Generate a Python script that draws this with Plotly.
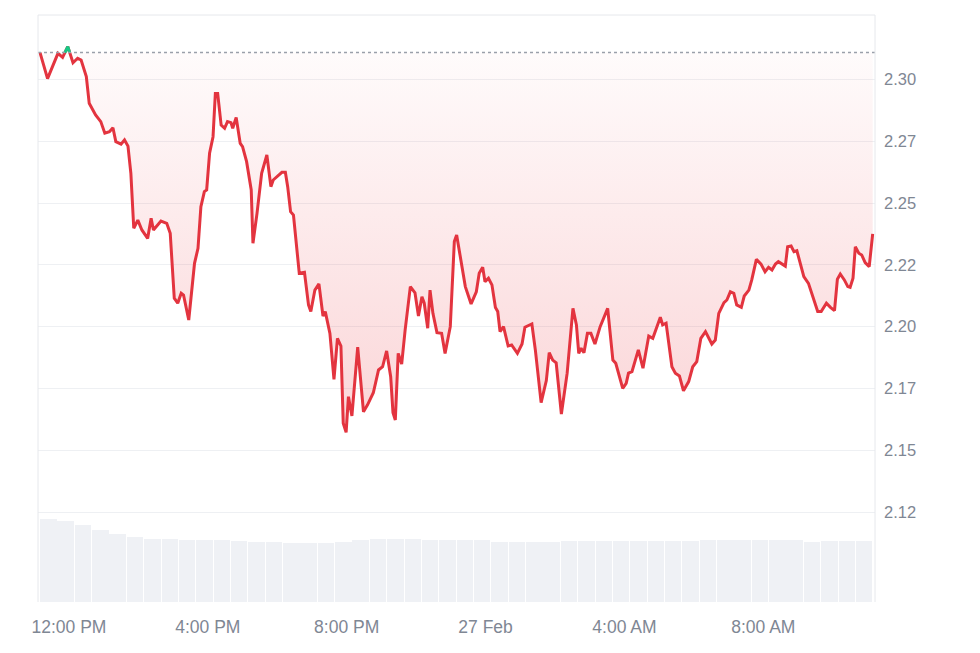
import pandas as pd
import plotly.graph_objects as go

# ---- data ----
start_time = "2025-02-26 11:10"
offset_min = [0, 13, 31, 39, 48, 57, 65, 71, 80, 85, 96, 105, 112, 120, 126, 131, 140, 146, 152, 157,
              162, 169, 176, 186, 192, 196, 209, 219, 225, 232, 238, 244, 248, 257, 267, 273, 278, 284, 288, 293,
              299, 303, 307, 313, 319, 324, 330, 333, 339, 346, 350, 357, 365, 368,
              375, 383, 392, 399, 403, 418, 424, 428, 433, 438, 448, 457, 464, 468, 475, 482,
              489, 493, 501, 508, 514, 520, 524, 529, 533, 539, 549, 559, 566, 576, 585, 592,
              599, 606, 610, 614, 619, 625, 631, 640, 648, 654, 660, 664, 670, 674, 679, 686,
              694, 700, 709, 716, 720, 727,
              735, 745, 754, 759, 765, 769, 775, 781, 787, 791, 795, 801, 809, 815, 825, 833,
              838, 850, 856, 866, 875, 880, 886, 892, 901, 911, 921, 927, 931, 935, 940, 946,
              952, 959, 968, 981, 990, 995, 1007, 1013, 1017, 1023, 1034, 1042, 1052, 1059, 1072, 1076,
              1082, 1092,
              1098, 1105, 1112, 1121, 1128, 1135, 1142, 1150, 1161, 1167, 1173, 1182, 1187, 1193, 1199, 1204,
              1212, 1217, 1225, 1230, 1238, 1246, 1253, 1259, 1265, 1271, 1276, 1288, 1292, 1298, 1303, 1308,
              1314, 1320, 1328, 1337, 1344, 1350, 1359, 1366, 1373, 1378, 1383, 1390, 1396, 1400, 1405, 1409,
              1415, 1420, 1426, 1433, 1439]
price = [2.3108, 2.3003, 2.3105, 2.3089, 2.3132, 2.3067, 2.3085, 2.3078, 2.3011, 2.2903, 2.2856, 2.2829,
         2.2782, 2.2788, 2.2804, 2.2748, 2.2738, 2.2755, 2.2730, 2.2620,
         2.2398, 2.2431, 2.2391, 2.2357, 2.2438, 2.2391, 2.2427, 2.2418, 2.2378, 2.2115, 2.2095, 2.2135,
         2.2128, 2.2027, 2.2256, 2.2317, 2.2485, 2.2546, 2.2553, 2.2701,
         2.2768, 2.2943, 2.2943, 2.2815, 2.2802, 2.2829, 2.2825, 2.2802, 2.2846, 2.2741, 2.2728, 2.2667,
         2.2553, 2.2337,
         2.2458, 2.2620, 2.2694, 2.2566, 2.2593, 2.2624, 2.2624, 2.2566, 2.2465, 2.2451, 2.2216, 2.2220,
         2.2088, 2.2061, 2.2148, 2.2173,
         2.2043, 2.2061, 2.1973, 2.1787, 2.1953, 2.1922, 2.1610, 2.1573, 2.1717, 2.1639, 2.1917, 2.1656,
         2.1684, 2.1733, 2.1825, 2.1838,
         2.1902, 2.1798, 2.1652, 2.1623, 2.1892, 2.1849, 2.1987, 2.2162, 2.2137, 2.2043, 2.2121, 2.2095,
         2.1994, 2.2148, 2.2054, 2.1976,
         2.1973, 2.1892, 2.2000, 2.2344, 2.2371, 2.2270,
         2.2162, 2.2092, 2.2141, 2.2216, 2.2240, 2.2182, 2.2196, 2.2169, 2.2078, 2.2061, 2.1980, 2.2000,
         2.1922, 2.1926, 2.1892, 2.1930,
         2.1998, 2.2011, 2.1906, 2.1693, 2.1782, 2.1895, 2.1865, 2.1854, 2.1647, 2.1812, 2.2074, 2.2007,
         2.1892, 2.1913, 2.1895, 2.1973,
         2.1973, 2.1930, 2.2000, 2.2074, 2.1865, 2.1852, 2.1751, 2.1771, 2.1812, 2.1818, 2.1906, 2.1832,
         2.1962, 2.1953, 2.2038, 2.2007,
         2.2014, 2.1838,
         2.1812, 2.1801, 2.1741, 2.1778, 2.1838, 2.1859, 2.1953, 2.1980, 2.1930, 2.1946, 2.2054, 2.2097,
         2.2108, 2.2141, 2.2135, 2.2088,
         2.2078, 2.2124, 2.2148, 2.2189, 2.2272, 2.2253, 2.2222, 2.2240, 2.2229, 2.2253, 2.2263, 2.2245,
         2.2323, 2.2326, 2.2303, 2.2307,
         2.2249, 2.2202, 2.2175, 2.2115, 2.2061, 2.2061, 2.2095, 2.2078, 2.2065, 2.2192, 2.2213, 2.2189,
         2.2162, 2.2159, 2.2196, 2.2323,
         2.2297, 2.2290, 2.2259, 2.2243, 2.2375]

# 24h volume (billions), one bar per 30 minutes
volume_step_min = 30
volume = [6.00, 5.82, 5.60, 5.24, 4.95, 4.70, 4.55, 4.52, 4.50, 4.50, 4.48, 4.41,
          4.34, 4.32, 4.30, 4.30, 4.30, 4.32, 4.45, 4.52, 4.52, 4.52, 4.50, 4.48,
          4.48, 4.45, 4.37, 4.35, 4.34, 4.37, 4.41, 4.41, 4.41, 4.41, 4.41, 4.41,
          4.43, 4.43, 4.45, 4.45, 4.46, 4.47, 4.48, 4.48, 4.37, 4.39, 4.41, 4.41]

tick_times = ["2025-02-26 12:00", "2025-02-26 16:00", "2025-02-26 20:00",
              "2025-02-27 00:00", "2025-02-27 04:00", "2025-02-27 08:00"]
tick_labels = ["12:00 PM", "4:00 PM", "8:00 PM", "27 Feb", "4:00 AM", "8:00 AM"]
price_ticks = [2.125, 2.15, 2.175, 2.20, 2.225, 2.25, 2.275, 2.30]
price_tick_labels = ["2.12", "2.15", "2.17", "2.20", "2.22", "2.25", "2.27", "2.30"]

# ---- derived ----
t0 = pd.Timestamp(start_time)
times = [t0 + pd.Timedelta(minutes=m) for m in offset_min]
open_price = price[0]
vol_times = [t0 + pd.Timedelta(minutes=volume_step_min * i) for i in range(len(volume))]

# green segments (above the opening price), with crossing points
gx, gy = [], []
for i in range(len(price)):
    if price[i] > open_price:
        if i > 0 and price[i - 1] <= open_price:
            f = (open_price - price[i - 1]) / (price[i] - price[i - 1])
            gx.append(times[i - 1] + (times[i] - times[i - 1]) * f)
            gy.append(open_price)
        gx.append(times[i]); gy.append(price[i])
        if i + 1 < len(price) and price[i + 1] <= open_price:
            f = (price[i] - open_price) / (price[i] - price[i + 1])
            gx.append(times[i] + (times[i + 1] - times[i]) * f)
            gy.append(open_price)
            gx.append(None); gy.append(None)

RED = "#e3343f"
GREEN = "#16c784"
GRAY = "#7f8794"

fig = go.Figure()
fig.add_trace(go.Bar(x=vol_times, y=volume, yaxis="y2", marker=dict(color="#eff1f5", line=dict(width=0)),
                     width=volume_step_min * 60 * 1000 * 0.95, offset=0, hoverinfo="skip"))
fig.add_trace(go.Scatter(x=[times[0], times[-1]], y=[open_price, open_price], mode="lines",
                         line=dict(width=0, color="rgba(0,0,0,0)"), hoverinfo="skip"))
fig.add_trace(go.Scatter(x=times, y=price, mode="lines", fill="tonexty",
                         fillgradient=dict(type="vertical",
                                           colorscale=[[0, "rgba(234,57,67,0.21)"], [1, "rgba(234,57,67,0.02)"]],
                                           start=min(price), stop=open_price),
                         line=dict(color=RED, width=3, shape="linear")))
fig.add_trace(go.Scatter(x=gx, y=gy, mode="lines", line=dict(color=GREEN, width=3), connectgaps=False))

x_lo = t0 - pd.Timedelta(minutes=3.5)
x_hi = t0 + pd.Timedelta(minutes=1443)

# the page body adds an 8px offset, so the figure is sized to the visible area
fig.update_layout(
    width=964, height=637,
    margin=dict(l=30, r=97, t=7, b=43),
    paper_bgcolor="white", plot_bgcolor="white",
    showlegend=False,
    font=dict(family="Liberation Sans, Arial, sans-serif", color=GRAY),
    xaxis=dict(type="date", range=[x_lo, x_hi], tickvals=tick_times, ticktext=tick_labels,
               showgrid=False, zeroline=False, showline=False, ticks="",
               tickfont=dict(size=17.5, color=GRAY), ticklabelstandoff=12),
    yaxis=dict(side="right", range=[2.0887, 2.326], tickvals=price_ticks, ticktext=price_tick_labels,
               showgrid=True, gridcolor="#eef0f3", gridwidth=1, zeroline=False, showline=False, ticks="",
               tickfont=dict(size=16.5, color=GRAY), ticklabelstandoff=8),
    yaxis2=dict(overlaying="y", range=[0, 42.43], visible=False),
    bargap=0,
    shapes=[
        dict(type="line", xref="paper", yref="y", x0=0, x1=1, y0=open_price, y1=open_price,
             line=dict(color="#9aa0aa", width=1.5, dash="dot")),
        dict(type="line", xref="paper", yref="paper", x0=0, x1=1, y0=1, y1=1,
             line=dict(color="#e6e8ec", width=1)),
        dict(type="line", xref="paper", yref="paper", x0=0, x1=0, y0=0, y1=1,
             line=dict(color="#e6e8ec", width=1)),
        dict(type="line", xref="paper", yref="paper", x0=1, x1=1, y0=0, y1=1,
             line=dict(color="#e6e8ec", width=1)),
    ],
)

fig.write_html("out.html")
